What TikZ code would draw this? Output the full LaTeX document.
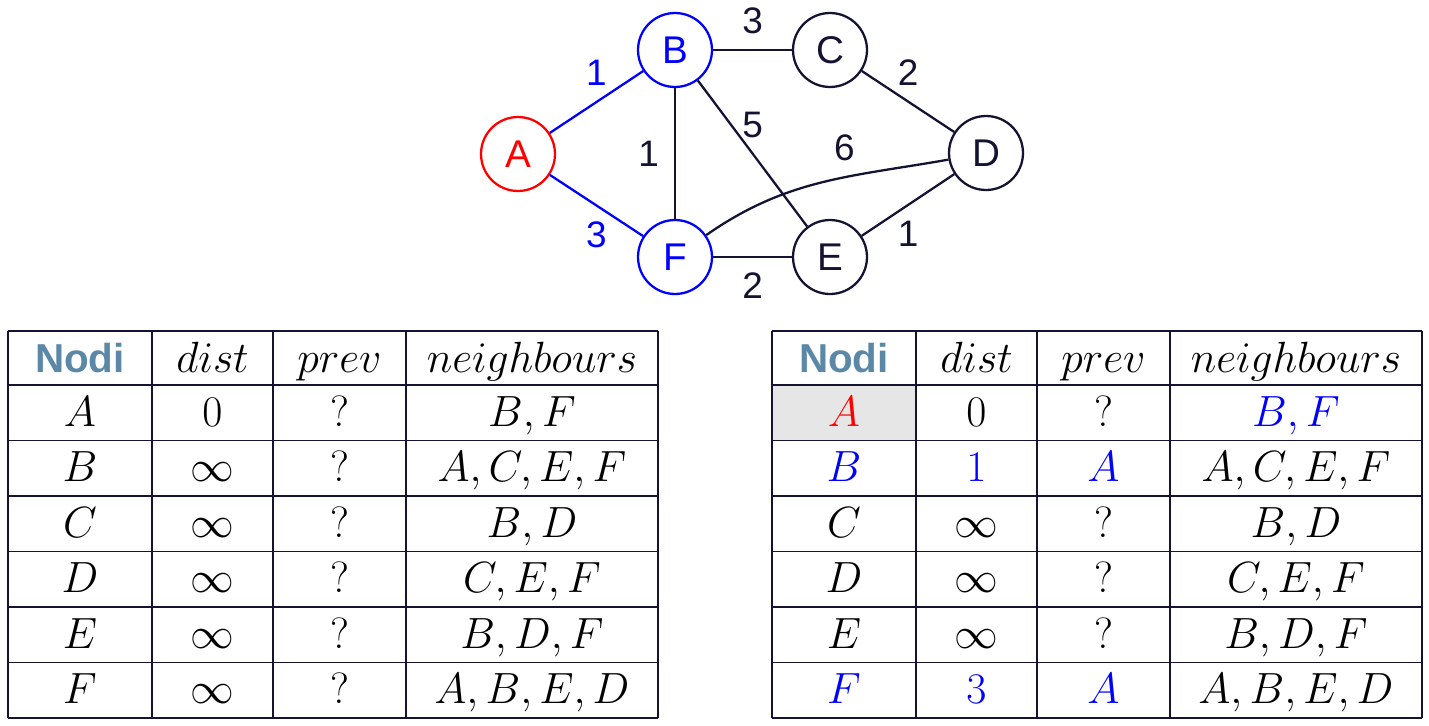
\documentclass[tikz,border=0pt]{standalone}
\usepackage{fontspec}
\setsansfont{Liberation Sans}
\usetikzlibrary{positioning}

\definecolor{navy}{RGB}{20,20,50}
\definecolor{nodiblue}{RGB}{90,136,166}
\definecolor{cellgray}{RGB}{230,230,230}

\tikzset{
  vertex/.style={circle, draw=navy, text=navy, line width=1.3pt, minimum size=1.48cm,
    inner sep=0pt, font=\sffamily\fontsize{22}{26}\selectfont},
  wedge/.style={draw=navy, line width=1.3pt},
  weight/.style={text=navy, inner sep=0pt, font=\sffamily\fontsize{21}{25}\selectfont},
  tabline/.style={draw=navy, line width=0.8pt},
  cell/.style={anchor=base, inner sep=0pt, font=\fontsize{23}{28}\selectfont}
}

\begin{document}
\begin{tikzpicture}[x=0.02cm, y=0.02cm]
    \useasboundingbox (0,0) rectangle (1429,725);

    % Vertici del grafo
    \node[vertex, draw=red, text=red] (A) at (518,571) {A};
    \node[vertex, draw=blue, text=blue] (B) at (675,675) {B};
    \node[vertex] (C) at (830,675) {C};
    \node[vertex] (D) at (986,572) {D};
    \node[vertex] (E) at (830,468) {E};
    \node[vertex, draw=blue, text=blue] (F) at (675,468) {F};

    % Archi con i pesi
    \draw[wedge, draw=blue] (A) -- node[weight, text=blue, above=0.3cm] {1} (B);
    \draw[wedge, draw=blue] (A) -- node[weight, text=blue, below=0.3cm] {3} (F);
    \draw[wedge] (B) -- node[weight, above=0.3cm] {3} (C);
    \draw[wedge] (C) -- node[weight, above=0.3cm] {2} (D);
    \draw[wedge] (B) -- node[weight, above=0.3cm] {5} (E);
    \draw[wedge] (B) -- node[weight, left=0.3cm] {1} (F);
    \draw[wedge] (F) to[out=35, in=190] node[weight, pos=0.6, above=0.3cm] {6} (D);
    \draw[wedge] (E) -- node[weight, below=0.3cm] {1} (D);
    \draw[wedge] (F) -- node[weight, below=0.3cm] {2} (E);

    % Cella evidenziata
    \fill[cellgray] (772,284.5) rectangle (916,340);

    % Griglie delle due tabelle
    \foreach \tx in {8,772}{
      \begin{scope}[shift={(\tx,7)}]
        \foreach \y in {0,55.5,111,166.5,222,277.5,333,387}
          \draw[tabline] (0,\y) -- (650,\y);
        \foreach \x in {0,144,265,398,650}
          \draw[tabline] (\x,0) -- (\x,387);
      \end{scope}
    }

    % Intestazioni
    \foreach \tx/\t in {8/l,772/r}{
      \begin{scope}[shift={(\tx,7)}]
        \node[cell] (\t-0-1) at (72,346) {\sffamily\bfseries\color{nodiblue}Nodi};
        \node[cell] (\t-0-2) at (204.5,346) {$dist$};
        \node[cell] (\t-0-3) at (331.5,346) {$prev$};
        \node[cell] (\t-0-4) at (524,346) {$neighbours$};
      \end{scope}
    }

    % Tabella iniziale
    \begin{scope}[shift={(8,7)}]
      \foreach \r/\n/\d/\p/\nb in {1/A/0/?/{B,F}, 2/B/\infty/?/{A,C,E,F},
          3/C/\infty/?/{B,D}, 4/D/\infty/?/{C,E,F}, 5/E/\infty/?/{B,D,F},
          6/F/\infty/?/{A,B,E,D}}{
        \node[cell] (l-\r-1) at (72,347.25-55.5*\r) {$\n$};
        \node[cell] (l-\r-2) at (204.5,347.25-55.5*\r) {$\d$};
        \node[cell] (l-\r-3) at (331.5,347.25-55.5*\r) {$\p$};
        \node[cell] (l-\r-4) at (524,347.25-55.5*\r) {$\nb$};
      }
    \end{scope}

    % Tabella dopo il primo passo
    \begin{scope}[shift={(772,7)}]
      \foreach \r/\n/\d/\p/\nb in {1/{\color{red}A}/0/?/{\color{blue}B,F},
          2/{\color{blue}B}/{\color{blue}1}/{\color{blue}A}/{A,C,E,F},
          3/C/\infty/?/{B,D}, 4/D/\infty/?/{C,E,F}, 5/E/\infty/?/{B,D,F},
          6/{\color{blue}F}/{\color{blue}3}/{\color{blue}A}/{A,B,E,D}}{
        \node[cell] (r-\r-1) at (72,347.25-55.5*\r) {$\n$};
        \node[cell] (r-\r-2) at (204.5,347.25-55.5*\r) {$\d$};
        \node[cell] (r-\r-3) at (331.5,347.25-55.5*\r) {$\p$};
        \node[cell] (r-\r-4) at (524,347.25-55.5*\r) {$\nb$};
      }
    \end{scope}

\end{tikzpicture}
\end{document}
